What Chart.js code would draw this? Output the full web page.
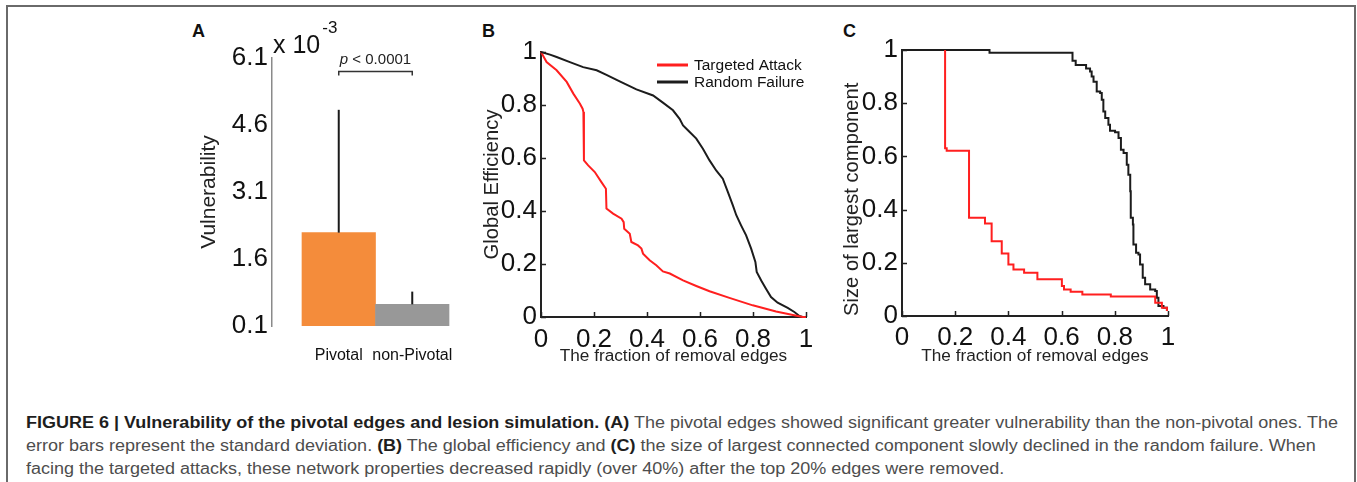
<!DOCTYPE html>
<html>
<head>
<meta charset="utf-8">
<script src="https://cdn.jsdelivr.net/npm/chart.js@4.4.0/dist/chart.umd.min.js"></script>
<style>
html, body { margin: 0; padding: 0; background: #fff; }
#fig { position: relative; width: 1357px; height: 482px; overflow: hidden; }
#frame { position: absolute; left: 6px; top: 5px; width: 1346px; height: 540px; border: 2px solid #6a6a6a; }
canvas { position: absolute; }
.letter { position: absolute; font: bold 18px "Liberation Sans", Arial, sans-serif; line-height: 18px; color: #111; }
.cap { position: absolute; left: 26px; white-space: nowrap; font: 16px "Liberation Sans", Arial, sans-serif; line-height: 20px; color: #4d4d4d; transform-origin: 0 50%; }
.cap b { color: #1e1e1e; }
</style>
</head>
<body>
<div id="fig">
  <div id="frame"></div>
  <div class="letter" style="left:192px;top:22px;">A</div>
  <div class="letter" style="left:482px;top:22px;">B</div>
  <div class="letter" style="left:843px;top:22px;">C</div>
  <canvas id="chartA" width="300" height="350" style="left:180px;top:20px;"></canvas>
  <canvas id="chartB" width="350" height="350" style="left:470px;top:20px;"></canvas>
  <canvas id="chartC" width="350" height="350" style="left:830px;top:20px;"></canvas>
  <div class="cap" style="top:413px;"><b>FIGURE 6 | Vulnerability of the pivotal edges and lesion simulation. (A)</b> The pivotal edges showed significant greater vulnerability than the non-pivotal ones. The</div>
  <div class="cap" style="top:436px;">error bars represent the standard deviation. <b>(B)</b> The global efficiency and <b>(C)</b> the size of largest connected component slowly declined in the random failure. When</div>
  <div class="cap" style="top:459px;">facing the targeted attacks, these network properties decreased rapidly (over 40%) after the top 20% edges were removed.</div>
</div>
<script>
// ---- panel A: vulnerability (x 10^-3) ----
var vulnCategories = ['Pivotal', 'non-Pivotal'];
var vulnMean = [2.19, 0.585];
var vulnSD = [2.75, 0.285];
var vulnTicks = [0.1, 1.6, 3.1, 4.6, 6.1];
var vulnColors = ['#f48c3b', '#989898'];
var sigLabel = ' < 0.0001';
var sigLevel = 5.8;

// ---- panels B and C: lesion simulation ----
var fracTicks = [0, 0.2, 0.4, 0.6, 0.8, 1];
var seriesNames = ['Targeted Attack', 'Random Failure'];
var seriesColors = ['#ff1f1f', '#1c1c1c'];

// B: global efficiency
var effTargetX = [0, 0.021, 0.059, 0.097, 0.122, 0.147, 0.157, 0.16, 0.162, 0.178, 0.203, 0.228, 0.245, 0.247, 0.272, 0.304, 0.312, 0.314, 0.335, 0.341, 0.366, 0.379, 0.385, 0.41, 0.435, 0.46, 0.486, 0.536, 0.586, 0.636, 0.711, 0.799, 0.887, 0.987, 1.0];
var effTargetY = [1, 0.962, 0.931, 0.887, 0.843, 0.805, 0.786, 0.774, 0.591, 0.572, 0.547, 0.509, 0.484, 0.409, 0.39, 0.371, 0.358, 0.333, 0.314, 0.283, 0.27, 0.258, 0.239, 0.214, 0.195, 0.172, 0.164, 0.138, 0.117, 0.097, 0.072, 0.044, 0.021, 0.0, 0.0];
var effRandomX = [0, 0.034, 0.059, 0.109, 0.159, 0.21, 0.247, 0.297, 0.36, 0.423, 0.46, 0.498, 0.523, 0.536, 0.561, 0.586, 0.611, 0.636, 0.661, 0.686, 0.705, 0.724, 0.737, 0.755, 0.774, 0.793, 0.809, 0.814, 0.831, 0.849, 0.868, 0.893, 0.931, 0.956, 0.975, 0.987, 1.0];
var effRandomY = [1, 0.99, 0.981, 0.962, 0.943, 0.931, 0.914, 0.889, 0.859, 0.836, 0.809, 0.78, 0.748, 0.723, 0.698, 0.673, 0.635, 0.591, 0.553, 0.522, 0.472, 0.421, 0.384, 0.346, 0.308, 0.258, 0.208, 0.17, 0.138, 0.107, 0.075, 0.054, 0.034, 0.019, 0.004, 0.0, 0.0];

// C: size of largest component (step curves, value changes at x)
var lccTargetX = [0.162, 0.162, 0.168, 0.252, 0.312, 0.337, 0.375, 0.4, 0.419, 0.459, 0.509, 0.601, 0.609, 0.634, 0.678, 0.785, 0.952, 0.977, 0.996];
var lccTargetY = [1.0, 0.631, 0.621, 0.369, 0.348, 0.281, 0.235, 0.194, 0.175, 0.163, 0.138, 0.113, 0.1, 0.091, 0.081, 0.073, 0.05, 0.031, 0.019];
var lccRandomX = [0, 0.329, 0.641, 0.653, 0.692, 0.707, 0.713, 0.72, 0.732, 0.745, 0.751, 0.757, 0.764, 0.776, 0.782, 0.801, 0.814, 0.823, 0.833, 0.845, 0.851, 0.858, 0.86, 0.868, 0.87, 0.88, 0.889, 0.895, 0.905, 0.914, 0.933, 0.952, 0.958, 0.964, 0.983, 0.996];
var lccRandomY = [1, 0.99, 0.96, 0.944, 0.93, 0.919, 0.9, 0.881, 0.844, 0.838, 0.813, 0.769, 0.744, 0.719, 0.696, 0.691, 0.669, 0.625, 0.613, 0.569, 0.531, 0.469, 0.369, 0.344, 0.269, 0.238, 0.231, 0.194, 0.144, 0.119, 0.1, 0.094, 0.069, 0.038, 0.031, 0.019];

var FAMILY = '"Liberation Sans", Arial, sans-serif';
function f(size) { return { family: FAMILY, size: size }; }
var TICK_FONT = f(26);

function pts(xs, ys) { return xs.map(function(x, i) { return { x: x, y: ys[i] }; }); }
function fixedTicks(list) { return function(scale) { scale.ticks = list.map(function(v) { return { value: v }; }); }; }

// ---- plugins ----
var errorBars = {
    id: 'errorBars',
    afterDatasetsDraw: function(chart) {
        var ctx = chart.ctx, x = chart.scales.x, y = chart.scales.y, a = chart.chartArea;
        ctx.save();
        ctx.strokeStyle = '#1a1a1a';
        ctx.lineWidth = 2;
        vulnMean.forEach(function(m, i) {
            var px = x.getPixelForValue(i);
            ctx.beginPath();
            ctx.moveTo(px, y.getPixelForValue(m));
            ctx.lineTo(px, y.getPixelForValue(m + vulnSD[i]));
            ctx.stroke();
        });
        // significance bracket
        var x0 = x.getPixelForValue(0), x1 = x.getPixelForValue(1), by = y.getPixelForValue(sigLevel);
        ctx.lineWidth = 1.5;
        ctx.strokeStyle = '#333';
        ctx.beginPath();
        ctx.moveTo(x0, by + 4); ctx.lineTo(x0, by); ctx.lineTo(x1, by); ctx.lineTo(x1, by + 4);
        ctx.stroke();
        ctx.fillStyle = '#222';
        ctx.textBaseline = 'middle';
        ctx.font = 'italic 15px ' + FAMILY;
        var wp = ctx.measureText('p').width;
        ctx.font = '15px ' + FAMILY;
        var wr = ctx.measureText(sigLabel).width;
        var sx = (x0 + x1) / 2 - (wp + wr) / 2;
        ctx.font = 'italic 15px ' + FAMILY;
        ctx.fillText('p', sx, by - 12);
        ctx.font = '15px ' + FAMILY;
        ctx.fillText(sigLabel, sx + wp, by - 12);
        // exponent label
        ctx.fillStyle = '#111';
        ctx.font = '25px ' + FAMILY;
        ctx.fillText('x 10', a.left + 1, a.top - 12);
        var w10 = ctx.measureText('x 10').width;
        ctx.font = '17px ' + FAMILY;
        ctx.fillText('-3', a.left + 3 + w10, a.top - 30);
        ctx.restore();
    }
};

var inwardTicks = {
    id: 'inwardTicks',
    afterDraw: function(chart) {
        var ctx = chart.ctx, a = chart.chartArea, x = chart.scales.x, y = chart.scales.y;
        ctx.save();
        ctx.strokeStyle = '#222';
        ctx.lineWidth = 1.5;
        ctx.beginPath();
        x.ticks.forEach(function(t) {
            var px = Math.round(x.getPixelForValue(t.value)) + 0.5;
            ctx.moveTo(px, a.bottom); ctx.lineTo(px, a.bottom - 5);
        });
        y.ticks.forEach(function(t) {
            var py = Math.round(y.getPixelForValue(t.value)) + 0.5;
            ctx.moveTo(a.left, py); ctx.lineTo(a.left + 5, py);
        });
        ctx.stroke();
        ctx.restore();
    }
};

var innerLegend = {
    id: 'innerLegend',
    afterDraw: function(chart) {
        var ctx = chart.ctx, a = chart.chartArea;
        ctx.save();
        ctx.font = '15.5px ' + FAMILY;
        ctx.textBaseline = 'middle';
        chart.data.datasets.forEach(function(ds, i) {
            var y = a.top + 13 + i * 17;
            ctx.strokeStyle = ds.borderColor;
            ctx.lineWidth = 3;
            ctx.beginPath();
            ctx.moveTo(a.left + 116, y); ctx.lineTo(a.left + 147, y);
            ctx.stroke();
            ctx.fillStyle = '#111';
            ctx.fillText(ds.label, a.left + 153, y + 1);
        });
        ctx.restore();
    }
};

// ---- panel A ----
new Chart(document.getElementById('chartA'), {
    type: 'bar',
    data: {
        datasets: [{
            data: pts([0, 1], vulnMean),
            backgroundColor: vulnColors,
            borderWidth: 0,
            barPercentage: 1,
            categoryPercentage: 1
        }]
    },
    options: {
        animation: false, responsive: false, events: [],
        layout: { padding: { left: 0, top: 38, right: 1, bottom: 0 } },
        plugins: { legend: { display: false }, tooltip: { enabled: false } },
        scales: {
            x: {
                type: 'linear', min: -0.908, max: 1.908, offset: false,
                afterBuildTicks: fixedTicks([0, 1]),
                afterFit: function(s) { s.height = 44; s.paddingLeft = 0; s.paddingRight = 0; },
                grid: { display: false, drawTicks: false }, border: { display: false },
                ticks: { font: f(16), color: '#111', padding: 20, maxRotation: 0, autoSkip: false,
                    callback: function(v) { return vulnCategories[v]; } }
            },
            y: {
                min: 0.1, max: 6.1,
                afterBuildTicks: fixedTicks(vulnTicks),
                afterFit: function(s) { s.width = 92; },
                grid: { display: false, drawTicks: false }, border: { color: '#8a8a8a', width: 1.5 },
                ticks: { font: TICK_FONT, color: '#111', padding: 4, callback: function(v) { return v.toFixed(1); } },
                title: { display: true, text: 'Vulnerability', font: f(21), color: '#222', padding: { top: 17, bottom: 0 } }
            }
        }
    },
    plugins: [errorBars]
});

// ---- panels B and C ----
function lineChart(id, yTitle, sets, stepped, box, extra) {
    return new Chart(document.getElementById(id), {
        type: 'scatter',
        data: {
            datasets: sets.map(function(s, i) {
                return {
                    label: seriesNames[i], data: s, showLine: true, stepped: stepped,
                    borderColor: seriesColors[i], backgroundColor: seriesColors[i],
                    borderWidth: 2, pointRadius: 0, tension: 0, clip: 5
                };
            })
        },
        options: {
            animation: false, responsive: false, events: [],
            layout: { padding: { left: 0, top: box.top, right: box.right, bottom: 0 } },
            plugins: { legend: { display: false }, tooltip: { enabled: false } },
            scales: {
                x: {
                    type: 'linear', min: 0, max: 1,
                    afterBuildTicks: fixedTicks(fracTicks),
                    afterFit: function(s) { s.height = box.xh; s.paddingLeft = 0; s.paddingRight = 0; },
                    grid: { display: false, drawTicks: false }, border: { color: '#222', width: 2 },
                    ticks: { font: TICK_FONT, color: '#111', padding: box.xpad, maxRotation: 0, autoSkip: false,
                        callback: function(v) { return String(v); } },
                    title: { display: true, text: 'The fraction of removal edges', font: f(17.2), color: '#222', padding: { top: 0, bottom: 3 } }
                },
                y: {
                    type: 'linear', min: 0, max: 1,
                    afterBuildTicks: fixedTicks(fracTicks),
                    afterFit: function(s) { s.width = box.yw; },
                    grid: { display: false, drawTicks: false }, border: { color: '#222', width: 2 },
                    ticks: { font: TICK_FONT, color: '#111', padding: 4, callback: function(v) { return String(v); } },
                    title: { display: true, text: yTitle, align: box.titleAlign, font: f(20.2), color: '#222', padding: { top: 10, bottom: 0 } }
                }
            }
        },
        plugins: [inwardTicks].concat(extra)
    });
}

lineChart('chartB', 'Global Efficiency',
    [pts(effTargetX, effTargetY), pts(effRandomX, effRandomY)], false,
    { top: 32, right: 14, xh: 53, yw: 71, xpad: 7, titleAlign: 'center' }, [innerLegend]);

lineChart('chartC', 'Size of largest component',
    [pts(lccTargetX, lccTargetY), pts(lccRandomX, lccRandomY)], 'before',
    { top: 30, right: 12, xh: 54, yw: 72, xpad: 6, titleAlign: 'start' }, []);

// ---- caption: fit first line to the figure width, same scale for all lines ----
var caps = document.querySelectorAll('.cap');
var sx = 1312 / caps[0].getBoundingClientRect().width;
caps.forEach(function(el) { el.style.transform = 'scaleX(' + sx + ')'; });
</script>
</body>
</html>
